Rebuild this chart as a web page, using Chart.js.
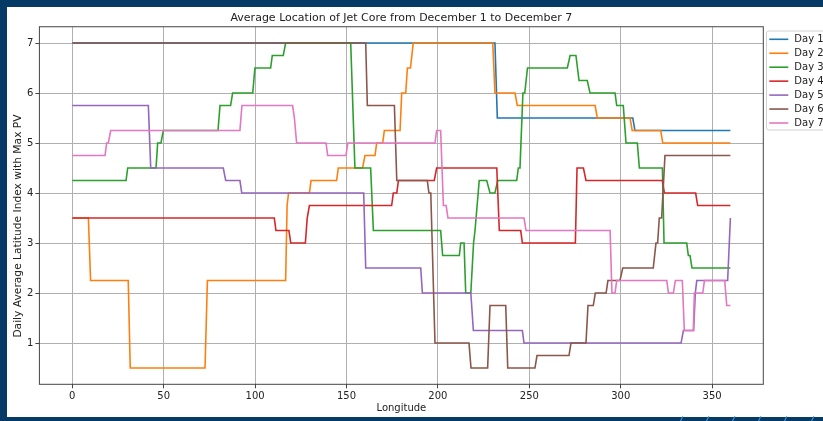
<!DOCTYPE html>
<html>
<head>
<meta charset="utf-8">
<title>Average Location of Jet Core</title>
<script src="https://cdn.jsdelivr.net/npm/chart.js@4.4.0/dist/chart.umd.min.js"></script>
<style>
  html, body { margin: 0; padding: 0; background: #063a66; overflow: hidden; width: 823px; height: 421px; }
  #sheet { position: absolute; left: 7px; top: 7px; width: 816px; height: 410px; background: #fff; }
  #chart { position: absolute; left: 0; top: 0; }
  .mark { position: absolute; top: 416px; width: 1px; height: 6px; background: #4aa3e8; transform: skewX(-25deg); }
</style>
</head>
<body>
<div id="sheet"></div>
<div class="mark" style="left:681px"></div>
<div class="mark" style="left:707px"></div>
<div class="mark" style="left:733px"></div>
<div class="mark" style="left:759px"></div>
<div class="mark" style="left:785px"></div>
<div class="mark" style="left:812px"></div>
<canvas id="chart" width="823" height="421"></canvas>
<script>
// values: [longitude, latitude index] at each change
const xTicks = [0, 50, 100, 150, 200, 250, 300, 350];
const yTicks = [1, 2, 3, 4, 5, 6, 7];
const dayLabels = ["Day 1", "Day 2", "Day 3", "Day 4", "Day 5", "Day 6", "Day 7"];
const dayColors = ["#1f77b4", "#ff7f0e", "#2ca02c", "#d62728", "#9467bd", "#8c564b", "#e377c2"];
const yLabel = "Daily Average Latitude Index with Max PV";

const day1 = [[0, 7], [231.2, 7], [232.5, 5.5], [306.6, 5.5], [307.8, 5.25], [360, 5.25]];

const day2 = [[0, 3.5], [8.8, 3.5], [10, 2.25], [30.6, 2.25], [31.7, 0.5], [72.6, 0.5], [73.9, 2.25],
  [116.7, 2.25], [117.5, 3.75], [118.3, 4], [129.7, 4], [130.6, 4.25], [144.6, 4.25], [145.5, 4.5],
  [158.8, 4.5], [160.1, 4.75], [165.6, 4.75], [166.5, 5], [169.8, 5], [170.7, 5.25], [179.3, 5.25],
  [180.2, 6], [182.4, 6], [183.3, 6.5], [185, 6.5], [186.5, 7], [230, 7], [231.2, 6], [242.2, 6],
  [243.4, 5.75], [286, 5.75], [287.2, 5.5], [305.1, 5.5], [306.3, 5.25], [321.9, 5.25], [323, 5], [360, 5]];

const day3 = [[0, 4.25], [29.4, 4.25], [30.3, 4.5], [45.8, 4.5], [46.7, 5], [48.5, 5], [49.8, 5.25],
  [79.7, 5.25], [80.8, 5.75], [86.6, 5.75], [87.7, 6], [98.7, 6], [99.9, 6.5], [108.5, 6.5], [109.4, 6.75],
  [115.4, 6.75], [116.7, 7], [152.3, 7], [154.6, 4.5], [163.2, 4.5], [164.7, 3.25], [201.5, 3.25],
  [202.6, 2.75], [211.7, 2.75], [212.5, 3], [214.3, 3], [215.2, 2], [218, 2], [219.5, 3], [220.3, 3.25],
  [222.6, 4.25], [226.7, 4.25], [228.5, 4], [231.2, 4], [232.7, 4.25], [243.1, 4.25], [244, 4.5],
  [244.9, 4.5], [246.5, 6], [247.5, 6], [249, 6.5], [270.8, 6.5], [272.3, 6.75], [275.5, 6.75],
  [277.2, 6.25], [281.7, 6.25], [283.2, 6], [296.9, 6], [297.8, 5.75], [301.4, 5.75], [302.9, 5],
  [309.1, 5], [310.2, 4.5], [322.8, 4.5], [323.7, 3], [336.1, 3], [337, 2.75], [337.9, 2.75], [339, 2.5],
  [360, 2.5]];

const day4 = [[0, 3.5], [110.5, 3.5], [111.4, 3.25], [118.5, 3.25], [119.5, 3], [127.5, 3], [128.5, 3.5],
  [129.7, 3.75], [174.7, 3.75], [175.6, 4], [177.5, 4], [178.4, 4.25], [198, 4.25], [199.3, 4.5],
  [232.2, 4.5], [233.6, 3.25], [245.3, 3.25], [246.2, 3], [275.2, 3], [276.1, 4.5], [279.6, 4.5],
  [281, 4.25], [322.8, 4.25], [323.9, 4], [341, 4], [342.1, 3.75], [360, 3.75]];

const day5 = [[0, 5.75], [41.6, 5.75], [42.9, 4.5], [82.6, 4.5], [83.9, 4.25], [91.7, 4.25], [92.7, 4],
  [159.4, 4], [160.5, 2.5], [190.6, 2.5], [191.5, 2], [218, 2], [219.4, 1.25], [246.2, 1.25], [247.1, 1],
  [333, 1], [334.3, 1.25], [339.9, 1.25], [340.8, 2], [341.6, 2.25], [358.5, 2.25], [360, 3.5]];

const day6 = [[0, 7], [160.5, 7], [161.4, 5.75], [176.2, 5.75], [177.5, 4.25], [194.2, 4.25], [195.1, 4],
  [196.1, 4], [198.4, 1], [217, 1], [218.1, 0.5], [227.2, 0.5], [228.5, 1.75], [237.1, 1.75], [238.2, 0.5],
  [253.1, 0.5], [254.2, 0.75], [271.7, 0.75], [272.8, 1], [281, 1], [282.1, 1.75], [285, 1.75], [286.1, 2],
  [292, 2], [293, 2.25], [299.6, 2.25], [301.1, 2.5], [317.8, 2.5], [319.3, 3], [320.2, 3], [321.1, 3.5],
  [322.4, 3.5], [324.2, 4.75], [360, 4.75]];

const day7 = [[0, 4.75], [17.9, 4.75], [18.8, 5], [19.7, 5], [21, 5.25], [91.7, 5.25], [92.8, 5.75],
  [120.5, 5.75], [121.5, 5.5], [122.7, 5], [138.8, 5], [139.7, 4.75], [149.7, 4.75], [150.7, 5],
  [198.4, 5], [199.3, 5.25], [201.5, 5.25], [203, 3.75], [204.5, 3.75], [205.5, 3.5], [247.1, 3.5],
  [248.2, 3.25], [294.2, 3.25], [295.2, 2], [296.9, 2], [297.8, 2.25], [325.2, 2.25], [326.1, 2],
  [328.8, 2], [329.9, 2.25], [333.7, 2.25], [334.8, 1.25], [339.7, 1.25], [340.3, 2], [344.9, 2],
  [345.8, 2.25], [356.9, 2.25], [358, 1.75], [360, 1.75]];

const days = [day1, day2, day3, day4, day5, day6, day7];

const FONT = "'DejaVu Sans', sans-serif";

// top and right spines too, like matplotlib
const spines = {
  id: "spines",
  afterDatasetsDraw(chart) {
    const { ctx, chartArea: a } = chart;
    ctx.save();
    ctx.strokeStyle = "#444";
    ctx.lineWidth = 1;
    ctx.strokeRect(a.left, a.top, a.right - a.left, a.bottom - a.top);
    ctx.restore();
  }
};

// y label sits a little below the axes middle in the reference
const sideLabel = {
  id: "sideLabel",
  afterDraw(chart) {
    const ctx = chart.ctx;
    ctx.save();
    ctx.translate(18, 226);
    ctx.rotate(-Math.PI / 2);
    ctx.font = "10.7px " + FONT;
    ctx.fillStyle = "#222";
    ctx.textAlign = "center";
    ctx.textBaseline = "middle";
    ctx.fillText(yLabel, 0, 0);
    ctx.restore();
  }
};

// legend box sits outside the axes on the right
const sideLegend = {
  id: "sideLegend",
  afterDraw(chart) {
    const ctx = chart.ctx;
    const left = 766.5, top = 31, rowH = 13.95;
    ctx.save();
    ctx.fillStyle = "rgba(255,255,255,0.8)";
    ctx.strokeStyle = "#d0d0d0";
    ctx.lineWidth = 1;
    ctx.beginPath();
    ctx.roundRect(left, top, 70, 99, 2);
    ctx.fill();
    ctx.stroke();
    ctx.font = "10px " + FONT;
    ctx.textBaseline = "middle";
    chart.data.datasets.forEach((ds, i) => {
      const y = top + 8.3 + i * rowH;
      ctx.strokeStyle = ds.borderColor;
      ctx.lineWidth = 1.6;
      ctx.beginPath();
      ctx.moveTo(left + 2.8, y);
      ctx.lineTo(left + 21.8, y);
      ctx.stroke();
      ctx.fillStyle = "#222";
      ctx.fillText(ds.label, left + 27.8, y);
    });
    ctx.restore();
  }
};

new Chart(document.getElementById("chart"), {
  type: "line",
  data: {
    datasets: days.map((pts, i) => ({
      label: dayLabels[i],
      data: pts.map(p => ({ x: p[0], y: p[1] })),
      borderColor: dayColors[i],
      borderWidth: 1.6,
      pointRadius: 0,
      tension: 0,
      fill: false,
      order: days.length - i
    }))
  },
  options: {
    responsive: false,
    animation: false,
    layout: { padding: { left: 0, right: 59.7, top: 0, bottom: 0 } },
    plugins: {
      legend: { display: false },
      tooltip: { enabled: false },
      title: {
        display: true,
        fullSize: false,
        text: "Average Location of Jet Core from December 1 to December 7",
        color: "#222",
        font: { family: FONT, size: 11, weight: "normal" },
        padding: { top: 12, bottom: 1.55 }
      }
    },
    scales: {
      x: {
        type: "linear",
        min: -18,
        max: 378,
        afterBuildTicks: s => { s.ticks = xTicks.map(v => ({ value: v })); },
        afterFit: s => { s.height = 36.7; },
        border: { display: false },
        grid: { color: "#b0b0b0", lineWidth: 1, tickLength: 4, tickColor: "#444", tickWidth: 1 },
        ticks: { color: "#222", font: { family: FONT, size: 10 }, padding: 2, maxRotation: 0, autoSkip: false },
        title: {
          display: true, text: "Longitude", color: "#222",
          font: { family: FONT, size: 10 }, padding: { top: 0, bottom: 7 }
        }
      },
      y: {
        min: 0.175,
        max: 7.325,
        afterBuildTicks: s => { s.ticks = yTicks.map(v => ({ value: v })); },
        afterFit: s => { s.width = 39.4; },
        border: { display: false },
        grid: { color: "#b0b0b0", lineWidth: 1, tickLength: 4, tickColor: "#444", tickWidth: 1 },
        ticks: { color: "#222", font: { family: FONT, size: 10 }, padding: 2 }
      }
    }
  },
  plugins: [spines, sideLabel, sideLegend]
});
</script>
</body>
</html>
